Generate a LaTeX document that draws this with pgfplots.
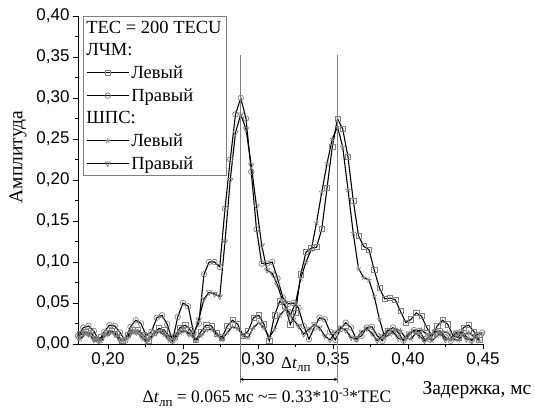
\documentclass[border=0pt]{standalone}
\usepackage{fontspec}
\setmainfont{Liberation Serif}
\setsansfont{Liberation Sans}
\usepackage{pgfplots}
\pgfplotsset{compat=1.18}
\begin{document}
\begin{tikzpicture}
\begin{axis}[
  scale only axis, width=405pt, height=328pt,
  xmin=0.18, xmax=0.45, ymin=0, ymax=0.40,
  axis x line*=bottom, axis y line*=left,
  axis line style={-, line width=0.9pt},
  xtick={0.20,0.25,...,0.45}, ytick={0,0.05,...,0.40},
  minor x tick num=1, minor y tick num=1,
  tick align=outside, major tick length=5pt, minor tick length=3pt,
  tick style={line width=0.8pt, black},
  /pgf/number format/assume math mode=true,
  /pgf/number format/.cd, fixed, fixed zerofill, precision=2, use comma, /pgfplots/.cd,
  tick label style={font=\sffamily\fontsize{17}{17}\selectfont},
  xlabel={Задержка, мс}, ylabel={Амплитуда},
  label style={font=\fontsize{19.5}{19.5}\selectfont},
  xlabel style={at={(axis description cs:0.985,-0.14)}, anchor=center},
  ylabel style={at={(axis description cs:-0.148,0.57)}, anchor=center},
  clip=false,
  legend cell align=left,
  legend style={at={(axis description cs:0.0123,1)}, anchor=north west,
    draw=gray, font=\fontsize{18.5}{19}\selectfont,
    row sep=4.6pt, inner sep=3pt},
  legend image code/.code={\draw[line width=1.1pt, mark repeat=2,mark phase=2,#1] plot coordinates {(0pt,0pt) (21pt,0pt) (42pt,0pt)};},
  every axis plot/.append style={black, line width=1.1pt},
]
\addlegendimage{empty legend}
\addlegendimage{empty legend}
% LFM left (squares)
\addplot[mark=square, mark size=2.6pt, mark options={draw=black!50, line width=0.7pt, fill=none}] coordinates {
(0.1815,0.012)(0.185,0.015)(0.1885,0.013)(0.192,0.006)(0.1955,0.008)(0.199,0.014)(0.2025,0.016)(0.206,0.012)(0.2095,0.004)(0.213,0.011)
(0.2165,0.017)(0.220,0.017)(0.2235,0.011)(0.227,0.004)(0.2305,0.014)(0.234,0.019)(0.2375,0.017)(0.241,0.009)(0.2445,0.009)(0.248,0.020)
(0.2515,0.023)(0.255,0.017)(0.2585,0.005)(0.262,0.015)(0.2655,0.023)(0.269,0.022)(0.2725,0.013)(0.276,0.008)(0.2795,0.022)(0.283,0.029)
(0.2865,0.024)(0.290,0.010)(0.2935,0.016)(0.297,0.032)(0.3005,0.035)(0.304,0.024)(0.3075,0.004)(0.311,0.035)(0.3145,0.052)(0.318,0.047)
(0.3215,0.024)(0.325,0.038)(0.3285,0.085)(0.332,0.112)(0.3355,0.117)(0.339,0.118)(0.3425,0.140)(0.346,0.190)(0.3495,0.240)(0.353,0.275)
(0.3565,0.262)(0.360,0.228)(0.3635,0.175)(0.367,0.132)(0.3705,0.119)(0.374,0.115)(0.3775,0.090)(0.381,0.068)(0.3845,0.055)(0.388,0.056)
(0.3915,0.054)(0.395,0.040)(0.3985,0.026)(0.402,0.030)(0.4055,0.038)(0.409,0.034)(0.4125,0.020)(0.416,0.010)(0.4195,0.022)(0.423,0.029)
(0.4265,0.024)(0.430,0.010)(0.4335,0.008)(0.437,0.020)(0.4405,0.023)(0.444,0.015)(0.4475,0.005)
};
% LFM right (circles)
\addplot[mark=o, mark size=2.8pt, mark options={draw=black!50, line width=0.7pt, fill=none}] coordinates {
(0.180,0.010)(0.1835,0.020)(0.187,0.022)(0.1905,0.016)(0.194,0.004)(0.1975,0.015)(0.201,0.023)(0.2045,0.022)(0.208,0.014)(0.2115,0.004)
(0.215,0.021)(0.2185,0.029)(0.222,0.025)(0.2255,0.010)(0.229,0.015)(0.2325,0.032)(0.236,0.035)(0.2395,0.024)(0.243,0.004)(0.2465,0.033)
(0.250,0.050)(0.2535,0.046)(0.257,0.014)(0.2605,0.025)(0.264,0.085)(0.2675,0.100)(0.271,0.100)(0.2745,0.094)(0.278,0.165)(0.2815,0.225)
(0.285,0.280)(0.2885,0.300)(0.292,0.275)(0.2955,0.210)(0.299,0.140)(0.3025,0.098)(0.306,0.098)(0.3095,0.100)(0.313,0.080)(0.3165,0.057)
(0.320,0.049)(0.3235,0.050)(0.327,0.044)(0.3305,0.022)(0.334,0.006)(0.3375,0.020)(0.341,0.032)(0.3445,0.030)(0.348,0.015)(0.3515,0.005)
(0.355,0.018)(0.3585,0.026)(0.362,0.020)(0.3655,0.006)(0.369,0.010)(0.3725,0.020)(0.376,0.021)(0.3795,0.010)(0.383,0.004)(0.3865,0.016)
(0.390,0.020)(0.3935,0.014)(0.397,0.004)(0.4005,0.010)(0.404,0.017)(0.4075,0.016)(0.411,0.006)(0.4145,0.006)(0.418,0.015)(0.4215,0.016)
(0.425,0.008)(0.4285,0.004)(0.432,0.013)(0.4355,0.015)(0.439,0.009)(0.4425,0.004)(0.446,0.011)(0.4495,0.014)
};
\addlegendimage{empty legend}
% NLS left (stars)
\addplot[mark=star, mark size=2.8pt, mark options={draw=black!50, line width=0.7pt}] coordinates {
(0.1815,0.006)(0.185,0.012)(0.1885,0.013)(0.192,0.007)(0.1955,0.004)(0.199,0.011)(0.2025,0.014)(0.206,0.010)(0.2095,0.004)(0.213,0.008)
(0.2165,0.014)(0.220,0.013)(0.2235,0.006)(0.227,0.005)(0.2305,0.012)(0.234,0.015)(0.2375,0.011)(0.241,0.004)(0.2445,0.007)(0.248,0.014)
(0.2515,0.016)(0.255,0.011)(0.2585,0.004)(0.262,0.010)(0.2655,0.017)(0.269,0.018)(0.2725,0.011)(0.276,0.005)(0.2795,0.014)(0.283,0.021)
(0.2865,0.019)(0.290,0.010)(0.2935,0.008)(0.297,0.020)(0.3005,0.026)(0.304,0.020)(0.3075,0.008)(0.311,0.018)(0.3145,0.035)(0.318,0.042)
(0.3215,0.035)(0.325,0.050)(0.3285,0.080)(0.332,0.100)(0.3355,0.115)(0.339,0.148)(0.3425,0.185)(0.346,0.220)(0.3495,0.250)(0.353,0.265)
(0.3565,0.240)(0.360,0.188)(0.3635,0.135)(0.367,0.092)(0.3705,0.081)(0.374,0.078)(0.3775,0.058)(0.381,0.030)(0.3845,0.008)(0.388,0.012)
(0.3915,0.018)(0.395,0.016)(0.3985,0.007)(0.402,0.006)(0.4055,0.014)(0.409,0.017)(0.4125,0.012)(0.416,0.004)(0.4195,0.010)(0.423,0.015)
(0.4265,0.014)(0.430,0.006)(0.4335,0.005)(0.437,0.012)(0.4405,0.014)(0.444,0.009)(0.4475,0.004)
};
% NLS right (down triangles)
\addplot[mark=triangle, mark size=3pt, mark options={draw=black!50, line width=0.7pt, fill=none, rotate=180}] coordinates {
(0.180,0.008)(0.1835,0.014)(0.187,0.012)(0.1905,0.005)(0.194,0.004)(0.1975,0.011)(0.201,0.015)(0.2045,0.012)(0.208,0.004)(0.2115,0.006)
(0.215,0.013)(0.2185,0.015)(0.222,0.010)(0.2255,0.003)(0.229,0.009)(0.2325,0.015)(0.236,0.016)(0.2395,0.009)(0.243,0.004)(0.2465,0.012)
(0.250,0.017)(0.2535,0.013)(0.257,0.010)(0.2605,0.030)(0.264,0.055)(0.2675,0.063)(0.271,0.061)(0.2745,0.058)(0.278,0.125)(0.2815,0.200)
(0.285,0.258)(0.2885,0.280)(0.292,0.262)(0.2955,0.218)(0.299,0.168)(0.3025,0.120)(0.306,0.090)(0.3095,0.086)(0.313,0.072)(0.3165,0.052)
(0.320,0.040)(0.3235,0.030)(0.327,0.022)(0.3305,0.012)(0.334,0.018)(0.3375,0.024)(0.341,0.020)(0.3445,0.010)(0.348,0.005)(0.3515,0.014)
(0.355,0.020)(0.3585,0.017)(0.362,0.008)(0.3655,0.006)(0.369,0.015)(0.3725,0.019)(0.376,0.013)(0.3795,0.004)(0.383,0.010)(0.3865,0.017)
(0.390,0.015)(0.3935,0.007)(0.397,0.005)(0.4005,0.013)(0.404,0.016)(0.4075,0.010)(0.411,0.004)(0.4145,0.010)(0.418,0.015)(0.4215,0.013)
(0.425,0.005)(0.4285,0.007)(0.432,0.014)(0.4355,0.013)(0.439,0.006)(0.4425,0.005)(0.446,0.012)(0.4495,0.012)
};
\legend{\hspace*{-45pt}TEC = 200 TECU, \hspace*{-45pt}ЛЧМ:, Левый, Правый, \hspace*{-45pt}ШПС:, Левый, Правый}
% annotation
\draw[gray, line width=0.8pt] (axis cs:0.288,0.352) -- (axis cs:0.288,-0.048);
\draw[gray, line width=0.8pt] (axis cs:0.353,0.352) -- (axis cs:0.353,-0.048);
\draw[<->, >=stealth, line width=0.6pt] (axis cs:0.288,-0.043) -- (axis cs:0.353,-0.043);
\node[font=\fontsize{17}{17}\selectfont] at (axis cs:0.3253,-0.025) {Δ\textit{t}\raisebox{-0.5ex}{\fontsize{13}{13}\selectfont лп}};
\node[font=\fontsize{17.5}{17.5}\selectfont] at (axis cs:0.306,-0.065) {Δ\textit{t}\raisebox{-0.5ex}{\fontsize{13}{13}\selectfont лп} = 0.065 мс \textasciitilde= 0.33*10\textsuperscript{-3}*TEC};
\coordinate (BL) at (rel axis cs:0,0);
\coordinate (TR) at (rel axis cs:1,1);
\end{axis}
\pgfresetboundingbox
\path[use as bounding box] ([xshift=-78pt,yshift=-68pt]BL) rectangle ([xshift=52pt,yshift=16pt]TR);
\end{tikzpicture}
\end{document}
